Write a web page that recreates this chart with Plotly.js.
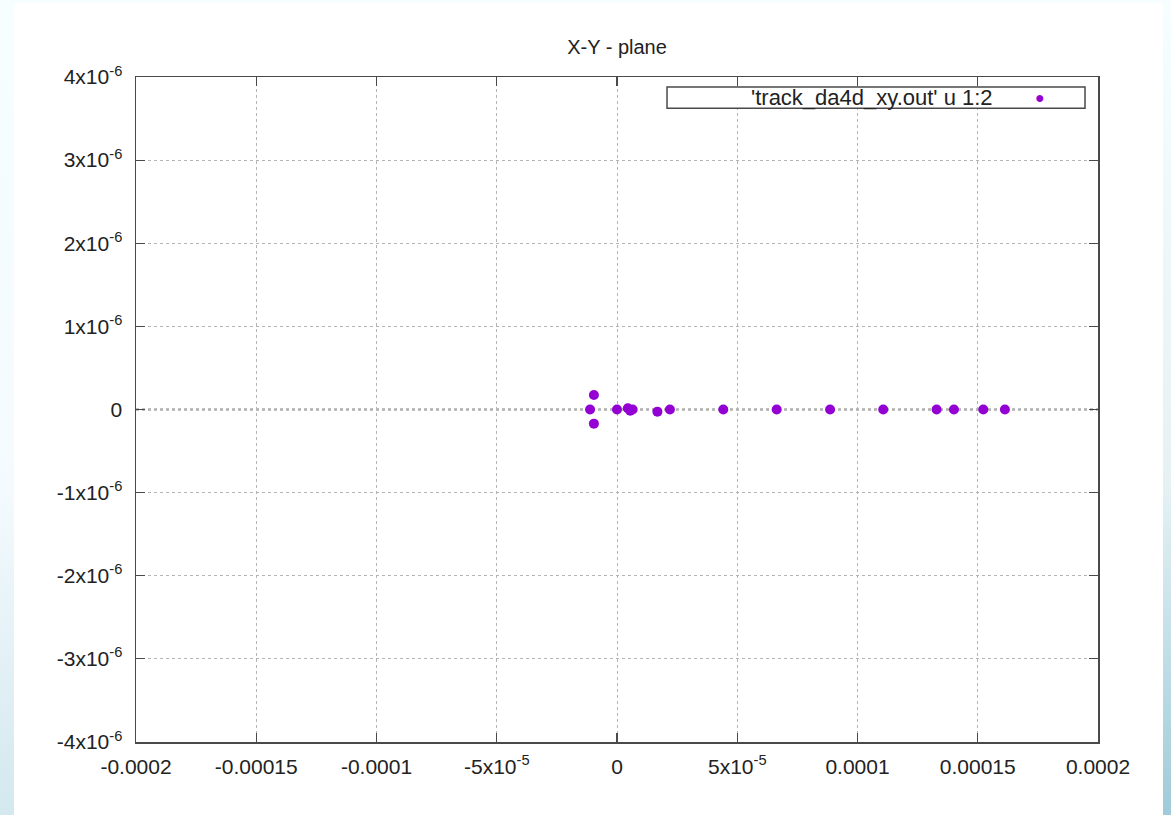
<!DOCTYPE html>
<html>
<head>
<meta charset="utf-8">
<script src="https://cdn.plot.ly/plotly-3.0.1.min.js"></script>
<style>
  html, body { margin: 0; padding: 0; width: 1171px; height: 815px; overflow: hidden; }
  body { background: linear-gradient(to bottom, #f6feff 0%, #f4fafd 60%, #d3e8ef 100%); position: relative; }
  #rightstrip { position: absolute; left: 1163px; top: 0; width: 8px; height: 815px;
    background: linear-gradient(to bottom, #f6feff 0%, #e4f1f5 60%, #9fcbd8 100%); }
  #chart { position: absolute; left: 14px; top: 3px; width: 1149px; height: 812px; background: #fff; }
</style>
</head>
<body>
<div id="rightstrip"></div>
<div id="chart"></div>
<script>
// Data (x, y of each point)
const xValues = [-1.12e-5, -9.6e-6, -9.6e-6, 0, 4.5e-6, 5.5e-6, 6.5e-6, 1.68e-5, 2.2e-5,
                 4.42e-5, 6.64e-5, 8.86e-5, 1.107e-4, 1.329e-4, 1.401e-4, 1.523e-4, 1.613e-4];
const yValues = [0, 1.75e-7, -1.7e-7, 0, 1.5e-8, -1.5e-8, 0, -2.6e-8, 0,
                 0, 0, 0, 0, 0, 0, 0, 0];

const xTickVals = [-0.0002, -0.00015, -0.0001, -5e-5, 0, 5e-5, 0.0001, 0.00015, 0.0002];
const xTickText = ["-0.0002", "-0.00015", "-0.0001", "-5x10<sup>-5</sup>", "0",
                   "5x10<sup>-5</sup>", "0.0001", "0.00015", "0.0002"];
const yTickVals = [-4e-6, -3e-6, -2e-6, -1e-6, 0, 1e-6, 2e-6, 3e-6, 4e-6];
const yTickText = ["-4x10<sup>-6</sup>", "-3x10<sup>-6</sup>", "-2x10<sup>-6</sup>", "-1x10<sup>-6</sup>", "0",
                   "1x10<sup>-6</sup>", "2x10<sup>-6</sup>", "3x10<sup>-6</sup>", "4x10<sup>-6</sup>"];

const titleText = "X-Y - plane";
const seriesName = "'track_da4d_xy.out' u 1:2";
const markerColor = "#9400d3";

const font = { family: "'Liberation Sans', Arial, Helvetica, sans-serif", size: 21, color: "#222" };

const trace = {
  x: xValues, y: yValues, type: "scatter", mode: "markers",
  name: seriesName,
  marker: { color: markerColor, size: 10 },
  showlegend: false,
  hoverinfo: "x+y"
};

const axisCommon = {
  showline: true, linecolor: "#4a4a4a", linewidth: 1.5, mirror: "allticks",
  ticks: "inside", ticklen: 9, tickcolor: "#4a4a4a", tickwidth: 1.2,
  showgrid: true, gridcolor: "#b4b4b4", gridwidth: 1, griddash: "dot",
  zeroline: false, tickmode: "array", tickfont: font
};

const layout = {
  width: 1149, height: 812,
  paper_bgcolor: "#ffffff", plot_bgcolor: "#ffffff",
  margin: { l: 122, r: 65, t: 74, b: 73 },
  font: font,
  title: { text: titleText, x: 0.5, xref: "paper", xanchor: "center", y: 0.946, yanchor: "middle",
           font: { family: font.family, size: 20, color: "#222" } },
  xaxis: Object.assign({}, axisCommon, {
    range: [-0.0002, 0.0002], tickvals: xTickVals, ticktext: xTickText, ticklabelstandoff: 5
  }),
  yaxis: Object.assign({}, axisCommon, {
    range: [-4e-6, 4e-6], tickvals: yTickVals, ticktext: yTickText, ticklabelstandoff: 8
  }),
  shapes: [
    { type: "line", xref: "paper", yref: "y", x0: 0, x1: 1, y0: 0, y1: 0,
      line: { color: "#000", width: 1.5, dash: "dot" }, layer: "between" },
    { type: "rect", xref: "paper", yref: "paper", x0: 0.552, x1: 0.9865, y0: 0.953, y1: 0.985,
      line: { color: "#4a4a4a", width: 1.5 }, fillcolor: "#ffffff", layer: "above" }
  ],
  annotations: [
    { xref: "paper", yref: "paper", x: 0.893, y: 0.969, xanchor: "right", yanchor: "middle",
      text: seriesName, showarrow: false, font: { family: font.family, size: 22, color: "#222" } },
    { xref: "paper", yref: "paper", x: 0.9397, y: 0.969, xanchor: "center", yanchor: "middle",
      text: "\u25CF", showarrow: false, font: { family: font.family, size: 16, color: markerColor } }
  ],
  showlegend: false
};

Plotly.newPlot("chart", [trace], layout, { displayModeBar: false, staticPlot: true });
</script>
</body>
</html>
